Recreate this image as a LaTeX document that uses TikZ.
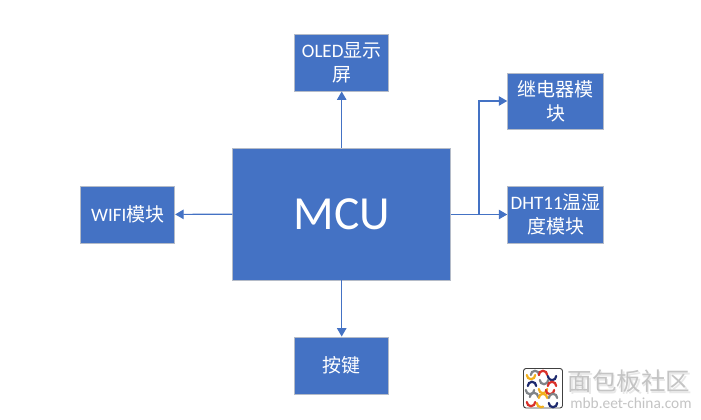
\documentclass[tikz,border=0pt]{standalone}
\usepackage{fontspec}
\setmainfont{Carlito}
\newfontfamily\cjk{Noto Sans CJK SC}
\usetikzlibrary{arrows.meta}
\definecolor{boxblue}{HTML}{4472C4}
\definecolor{boxline}{HTML}{B4BBC8}
\definecolor{wmgray}{HTML}{C4C4C4}
\definecolor{wmshadow}{HTML}{E8E8E8}
\definecolor{logored}{HTML}{D9302A}
\definecolor{logoyellow}{HTML}{F2B01E}
\definecolor{lognavy}{HTML}{1E2A6E}
\definecolor{loggray}{HTML}{808488}
\tikzset{
  x=1pt,y=-1pt,
  blockbox/.style={draw=boxline,line width=0.9pt,fill=boxblue,text=white,inner sep=0pt,align=center,font=\fontsize{19}{25}\selectfont},
  link/.style={draw=boxblue,line width=1.2pt,-{Triangle[length=8.5pt,width=9.5pt]}},
  arcs/.style={line width=2.2pt,line cap=round},
}
\begin{document}
\begin{tikzpicture}
\useasboundingbox (0,0) rectangle (701,420);
\node[blockbox,minimum width=218pt,minimum height=132pt,font=\fontsize{47.5}{50}\selectfont] (mcu) at (341.7,214) {MCU};
\node[blockbox,minimum width=94pt,minimum height=57pt] (oled) at (341.7,62.5) {OLED{\cjk 显示}\\[-1pt]{\cjk 屏}};
\node[blockbox,minimum width=96pt,minimum height=56pt] (relay) at (555.7,101) {{\cjk 继电器模}\\[-1pt]{\cjk 块}};
\node[blockbox,minimum width=96pt,minimum height=57pt] (dht) at (555.7,214.5) {DHT11{\cjk 温湿}\\[-1pt]{\cjk 度模块}};
\node[blockbox,minimum width=94pt,minimum height=57pt] (wifi) at (127.7,214.5) {WIFI{\cjk 模块}};
\node[blockbox,minimum width=94pt,minimum height=57pt] (key) at (341.7,365.5) {{\cjk 按键}};
\draw[link] (mcu) -- (oled);
\draw[link] (mcu) -- (wifi);
\draw[link] (mcu) -- (key);
\draw[link] (mcu.east |- dht.west) -- (dht.west);
\coordinate (branch) at (479,214.5);
\draw[link] (branch) -- (479,101) -- (relay.west);
% watermark
\fill[white] (520,366) rectangle (701,412);
\draw[black!75,line width=0.9pt,fill=white,rounded corners=2.5pt] (523.5,368.5) rectangle (562.5,408);
\foreach \cx/\cy/\c/\s/\e in {
 531/375/logoyellow/180/360, 535/375/loggray/0/180, 543/375/logored/0/180,
 552/376/lognavy/180/360, 544/380/loggray/180/360,
 532/386/lognavy/0/180, 530/390/loggray/180/360, 543/389/logoyellow/180/360,
 552/386/logored/0/180, 550/390/logored/180/360,
 531/402/logored/180/360, 534/397/loggray/0/180, 543/398/logoyellow/0/180,
 553/398/loggray/0/180, 553/403/lognavy/180/360, 541/403/logoyellow/180/300}
{ \draw[arcs,\c] (\cx,\cy) ++(\s:4.2pt) arc[start angle=\s,end angle=\e,radius=4.2pt]; }
\node[inner sep=0pt,text=wmshadow,font=\cjk\fontsize{24.5}{24}\selectfont] (wmshade) at (630.5,383) {面包板社区};
\node[inner sep=0pt,text=wmgray,font=\cjk\fontsize{24.5}{24}\selectfont] (wmtitle) at (629,381.5) {面包板社区};
\node[inner sep=0pt,text=wmgray,font=\fontsize{15.4}{15}\selectfont] (wmurl) at (631,403) {mbb.eet-china.com};
\end{tikzpicture}
\end{document}
